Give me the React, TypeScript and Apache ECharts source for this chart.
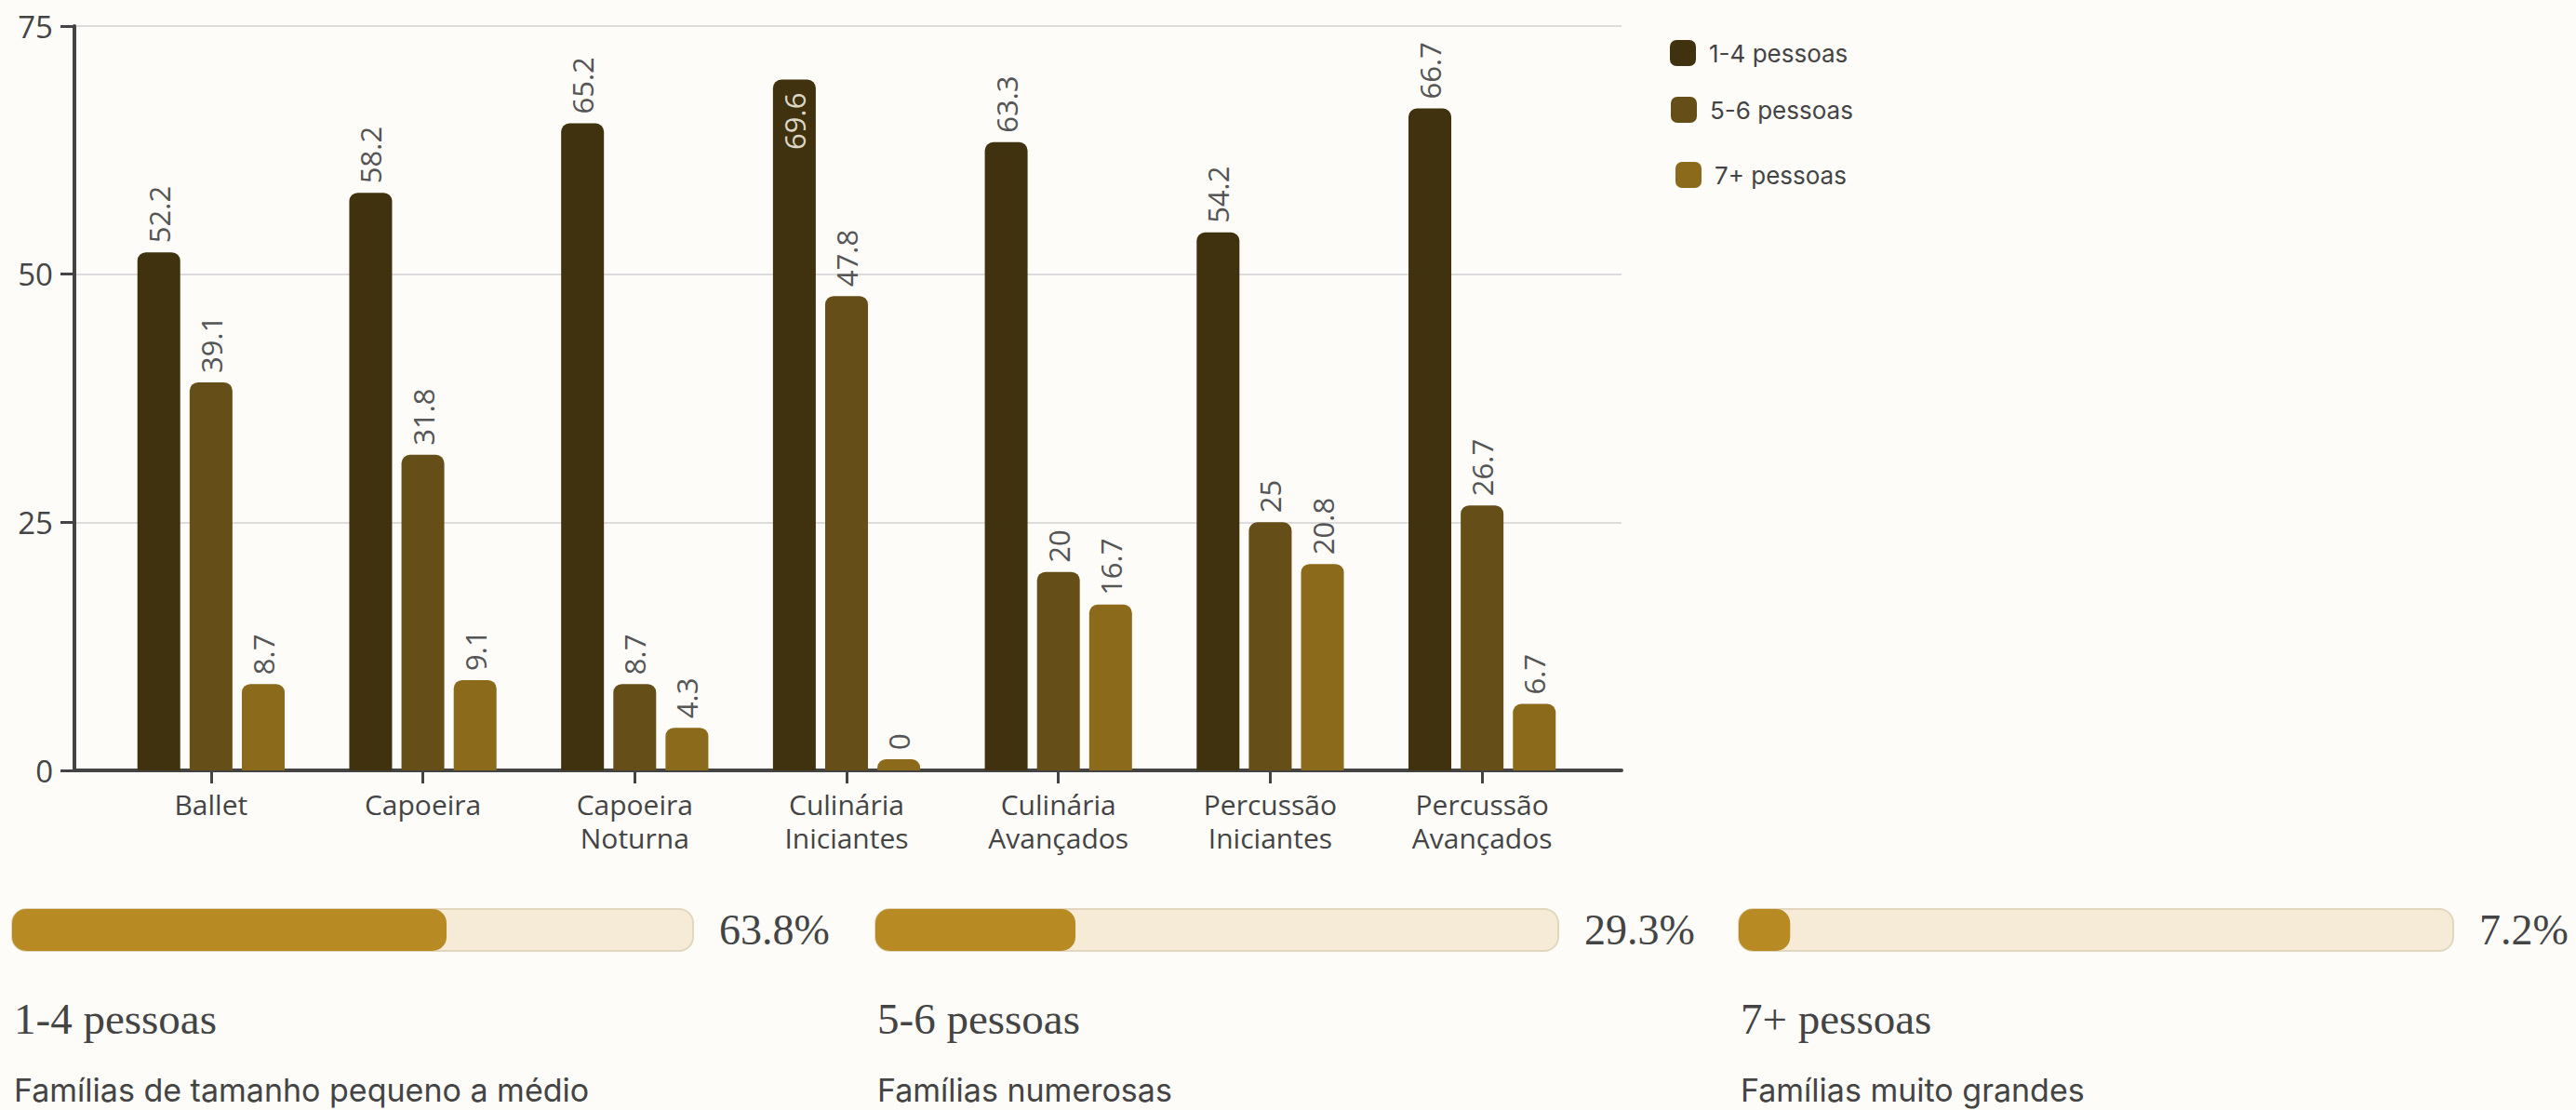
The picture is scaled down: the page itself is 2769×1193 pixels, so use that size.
import React, { useEffect, useRef } from "react";
import * as echarts from "echarts";

const categories = [
  "Ballet",
  "Capoeira",
  "Capoeira Noturna",
  "Culinária Iniciantes",
  "Culinária Avançados",
  "Percussão Iniciantes",
  "Percussão Avançados",
];
const seriesNames = ["1-4 pessoas", "5-6 pessoas", "7+ pessoas"];
const small = [52.2, 58.2, 65.2, 69.6, 63.3, 54.2, 66.7];
const medium = [39.1, 31.8, 8.7, 47.8, 20, 25, 26.7];
const large = [8.7, 9.1, 4.3, 0, 16.7, 20.8, 6.7];
const yTicks = [0, 25, 50, 75];

const shares = [63.8, 29.3, 7.2];
const descriptions = [
  "Famílias de tamanho pequeno a médio",
  "Famílias numerosas",
  "Famílias muito grandes",
];

const barColors = ["#40320F", "#654E17", "#8B6A1C"];
const TEXT = "#444444";
const SANS = "'Open Sans', sans-serif";
const SERIF = "'Liberation Serif', serif";
const UI = "Inter, sans-serif";

export default function App() {
  const ref = useRef<HTMLDivElement>(null);
  useEffect(() => {
    if (!ref.current) return;
    const chart = echarts.init(ref.current, undefined, { renderer: "svg" });
    const values = [small, medium, large];

    const progLeft = [13, 941, 1869];
    const progWidth = [732, 734, 768];
    const legendLeft = [1795, 1796, 1801];
    const legendTop = [43, 104, 174];

    const option: any = {
      animation: false,
      backgroundColor: "#FDFCF8",
      grid: [
        { left: 80, top: 28, width: 1663, height: 800 },
        { left: 113, top: 28, width: 1594, height: 800 },
        ...progLeft.map((l, i) => ({ left: l, top: 977, width: progWidth[i], height: 45 })),
      ],
      xAxis: [
        {
          gridIndex: 0,
          type: "value",
          min: 0,
          max: 1,
          axisLine: { show: true, lineStyle: { color: TEXT, width: 4 } },
          axisTick: { show: false },
          axisLabel: { show: false },
          splitLine: { show: false },
        },
        {
          gridIndex: 1,
          type: "category",
          data: categories,
          axisLine: { show: true, lineStyle: { color: TEXT, width: 4 } },
          axisTick: { show: true, alignWithLabel: true, length: 14, lineStyle: { color: TEXT, width: 3 } },
          axisLabel: {
            color: TEXT,
            fontFamily: SANS,
            fontSize: 30,
            lineHeight: 36,
            margin: 18,
            interval: 0,
            formatter: (v: string) => v.replace(" ", "\n"),
          },
        },
        ...progLeft.map((_, i) => ({ gridIndex: 2 + i, type: "value", min: 0, max: 100, show: false })),
      ],
      yAxis: [
        {
          gridIndex: 0,
          type: "value",
          min: yTicks[0],
          max: yTicks[yTicks.length - 1],
          interval: yTicks[1] - yTicks[0],
          axisLine: { show: true, lineStyle: { color: TEXT, width: 4 } },
          axisTick: { show: true, length: 15, lineStyle: { color: TEXT, width: 3 } },
          axisLabel: { color: TEXT, fontFamily: SANS, fontSize: 33, margin: 23 },
          splitLine: { show: true, lineStyle: { color: "#DCDCDC", width: 2 } },
        },
        {
          gridIndex: 1,
          type: "value",
          min: yTicks[0],
          max: yTicks[yTicks.length - 1],
          show: false,
        },
        ...progLeft.map((_, i) => ({
          gridIndex: 2 + i,
          type: "category",
          data: [seriesNames[i]],
          position: "right",
          axisLine: { show: false },
          axisTick: { show: false },
          axisLabel: {
            color: TEXT,
            fontFamily: SERIF,
            fontSize: 46,
            margin: 28,
            formatter: () => shares[i].toFixed(1) + "%",
          },
        })),
      ],
      legend: seriesNames.map((name, i) => ({
        data: [name],
        left: legendLeft[i],
        top: legendTop[i],
        orient: "vertical",
        icon: "roundRect",
        itemWidth: 28,
        itemHeight: 28,
        padding: 0,
        selectedMode: false,
        textStyle: { color: TEXT, fontFamily: UI, fontSize: 26, padding: [0, 0, 0, 9] },
      })),
      title: [
        ...seriesNames.map((name, i) => ({
          text: name,
          left: progLeft[i] + 2,
          top: 1071,
          padding: 0,
          textStyle: { color: TEXT, fontFamily: SERIF, fontSize: 47, fontWeight: "normal" },
        })),
        ...descriptions.map((d, i) => ({
          text: d,
          left: progLeft[i] + 2,
          top: 1154,
          padding: 0,
          textStyle: { color: TEXT, fontFamily: UI, fontSize: 34, fontWeight: "normal" },
        })),
      ],
      series: [
        ...values.map((arr, si) => ({
          name: seriesNames[si],
          type: "bar",
          xAxisIndex: 1,
          yAxisIndex: 1,
          barWidth: 46,
          barGap: "22%",
          barMinHeight: 12,
          itemStyle: { color: barColors[si], borderRadius: [9, 9, 0, 0] },
          label: {
            show: true,
            position: "top",
            rotate: 90,
            align: "left",
            verticalAlign: "middle",
            distance: 10,
            color: "#555555",
            fontFamily: SANS,
            fontSize: 31,
          },
          data: arr.map((v) =>
            v > 68
              ? {
                  value: v,
                  label: { position: "insideTop", align: "right", distance: 14, color: "#DDD6C6" },
                }
              : v
          ),
        })),
        ...shares.map((s, i) => ({
          name: "share-" + seriesNames[i],
          type: "bar",
          xAxisIndex: 2 + i,
          yAxisIndex: 2 + i,
          barWidth: 45,
          showBackground: true,
          backgroundStyle: { color: "#F5EBD7", borderColor: "#E2D7BE", borderWidth: 2, borderRadius: 15 },
          itemStyle: { color: "#B88A24", borderRadius: 15 },
          data: [s],
        })),
      ],
    };
    chart.setOption(option);
    return () => chart.dispose();
  }, []);
  return (
    <div
      ref={ref}
      style={{ position: "fixed", left: 0, top: 0, width: 2769, height: 1193, background: "#FDFCF8" }}
    />
  );
}
